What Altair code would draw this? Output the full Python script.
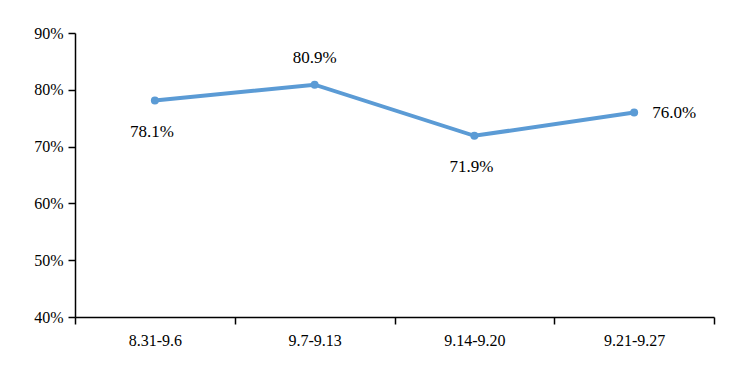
import altair as alt
import pandas as pd

weeks = ["8.31-9.6", "9.7-9.13", "9.14-9.20", "9.21-9.27"]
rates = [78.1, 80.9, 71.9, 76.0]
label_pos = ["below", "above", "below", "right"]

df = pd.DataFrame({"week": weeks, "rate": rates, "pos": label_pos})
df["label"] = df["rate"].map(lambda v: f"{v:.1f}%")

FONT = "Liberation Serif"

x = alt.X("week:N", sort=weeks, title=None,
          scale=alt.Scale(type="band", paddingInner=0, paddingOuter=0),
          axis=alt.Axis(tickBand="extent", labelAngle=0, labelFont=FONT, labelFontSize=16,
                        labelColor="#000", domainColor="#000", domainWidth=1.5,
                        tickColor="#000", tickWidth=1.5, tickSize=7, labelPadding=8))
y = alt.Y("rate:Q", title=None,
          scale=alt.Scale(domain=[40, 90], nice=False, zero=False),
          axis=alt.Axis(values=[40, 50, 60, 70, 80, 90], labelExpr="datum.value + '%'",
                        grid=False, labelFont=FONT, labelFontSize=16, labelColor="#000",
                        domainColor="#000", domainWidth=1.5, tickColor="#000",
                        tickWidth=1.5, tickSize=7, labelPadding=5))

base = alt.Chart(df)
line = base.mark_line(color="#5B9BD5", strokeWidth=4).encode(x=x, y=y)
pts = base.mark_point(color="#5B9BD5", filled=True, opacity=1, size=64).encode(x=x, y=y)

def txt(pos, **kw):
    return base.transform_filter(alt.datum.pos == pos).mark_text(
        font=FONT, fontSize=17, color="#000", **kw).encode(x=x, y=y, text="label:N")

below = txt("below", dy=31, dx=-3)
above = txt("above", dy=-27)
right = txt("right", align="left", dx=18)

chart = alt.layer(line, pts, below, above, right).properties(
    width=639, height=284,
    background="white",
    autosize=alt.AutoSizeParams(type="none"),
    padding={"left": 67, "top": 25, "right": 20, "bottom": 40},
).configure_view(strokeWidth=0, stroke="transparent")

chart.save("out.html", embed_options={"renderer": "svg", "actions": False})
